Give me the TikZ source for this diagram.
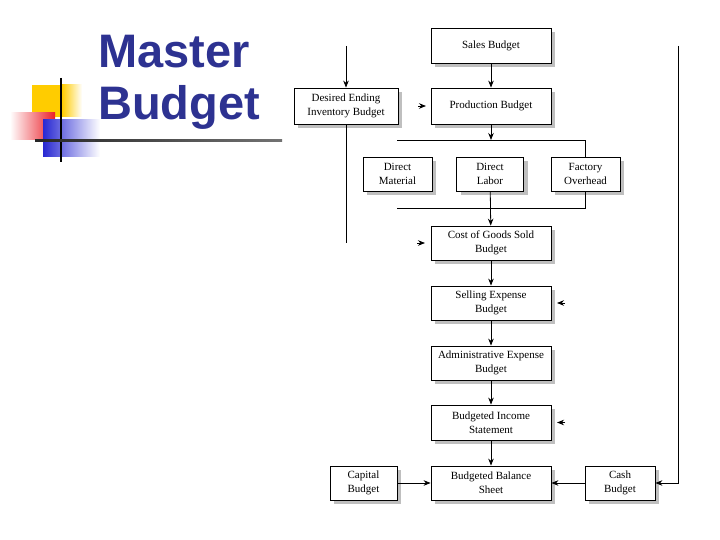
\documentclass[tikz,border=0pt]{standalone}
\usepackage{fontspec}
\setmainfont{Liberation Serif}
\newfontfamily\titlefont{Liberation Sans}
\usetikzlibrary{arrows.meta,shadows}
\definecolor{titleblue}{RGB}{45,50,145}
\definecolor{decoyellow}{RGB}{255,204,0}
\definecolor{decored}{RGB}{235,30,40}
\definecolor{decoblue}{RGB}{40,40,210}
\tikzset{
  box/.style={draw, line width=0.8pt, fill=white, align=center, inner sep=1pt,
    font=\fontsize{11}{14}\selectfont,
    drop shadow={shadow xshift=4pt, shadow yshift=-4pt, fill=black!25, opacity=1}},
  arr/.style={-{Stealth[length=7pt,width=5.5pt]}, line width=0.8pt},
  ln/.style={line width=0.8pt},
}
\begin{document}
\begin{tikzpicture}[x=1pt,y=-1pt]
\useasboundingbox (0,0) rectangle (720,540);
% decoration
\fill[decoyellow] (32,85) rectangle (62,117);
\shade[left color=decoyellow, right color=white] (62,85) rectangle (82,117);
\shade[left color=white, right color=decored] (10,113) rectangle (55,140);
\shade[left color=decoblue, right color=white] (43,120) rectangle (100,157);
\draw[line width=2.5pt, black] (61,78) -- (61,162);
\shade[left color=black!85, right color=black!55] (35,139.2) rectangle (282,141.8);
% title
\node[anchor=base west, inner sep=0, text=titleblue, font=\titlefont\bfseries\fontsize{47}{50}\selectfont] (t1) at (98,68) {Master};
\node[anchor=base west, inner sep=0, text=titleblue, font=\titlefont\bfseries\fontsize{47}{50}\selectfont] (t2) at (98,120) {Budget};
% boxes
\node[box, minimum width=120pt, minimum height=35pt] (sales) at (491,45.5) {Sales Budget};
\node[box, minimum width=120pt, minimum height=36pt] (prod) at (491,106) {Production Budget};
\node[box, minimum width=104pt, minimum height=36pt] (des) at (346,106) {Desired Ending\\Inventory Budget};
\node[box, minimum width=69pt, minimum height=34pt] (dm) at (397.5,174) {Direct\\Material};
\node[box, minimum width=67pt, minimum height=34pt] (dl) at (490,174) {Direct\\Labor};
\node[box, minimum width=69pt, minimum height=34pt] (fo) at (585.5,174) {Factory\\Overhead};
\node[box, minimum width=120pt, minimum height=34pt] (cogs) at (491,243) {Cost of Goods Sold\\Budget};
\node[box, minimum width=120pt, minimum height=34pt] (sell) at (491,303) {Selling Expense\\Budget};
\node[box, minimum width=120pt, minimum height=34pt] (adm) at (491,363) {Administrative Expense\\Budget};
\node[box, minimum width=120pt, minimum height=35pt] (inc) at (491,422.5) {Budgeted Income\\Statement};
\node[box, minimum width=120pt, minimum height=34pt] (bal) at (491,483) {Budgeted Balance\\Sheet};
\node[box, minimum width=67pt, minimum height=34pt] (cap) at (363.5,483) {Capital\\Budget};
\node[box, minimum width=70pt, minimum height=34pt] (cash) at (620,483) {Cash\\Budget};
% coordinates
\coordinate (destop) at (346,46);
\coordinate (desend) at (346,243);
\coordinate (busA) at (397,140);
\coordinate (busAm) at (491,140);
\coordinate (busB) at (397,208);
\coordinate (rtop) at (678,46);
\coordinate (s1) at (418,106);
\coordinate (s1e) at (426,106);
\coordinate (s2) at (417,243);
\coordinate (s2e) at (425,243);
\coordinate (s3) at (565,303);
\coordinate (s3e) at (557,303);
\coordinate (s4) at (565,422.5);
\coordinate (s4e) at (557,422.5);
% connectors
\draw[arr] (sales) -- (prod);
\draw[arr] (destop) -- (des);
\draw[ln] (des) -- (desend);
\draw[arr] (prod) -- (busAm);
\draw[ln] (busA) -| (fo.north);
\draw[ln] (busB) -| (fo.south);
\draw[arr] (dl) -- (cogs);
\draw[arr] (cogs) -- (sell);
\draw[arr] (sell) -- (adm);
\draw[arr] (adm) -- (inc);
\draw[arr] (inc) -- (bal);
\draw[arr] (cap) -- (bal);
\draw[arr] (cash) -- (bal);
\draw[arr] (rtop) |- (cash.east);
\draw[arr] (s1) -- (s1e);
\draw[arr] (s2) -- (s2e);
\draw[arr] (s3) -- (s3e);
\draw[arr] (s4) -- (s4e);
\end{tikzpicture}
\end{document}
